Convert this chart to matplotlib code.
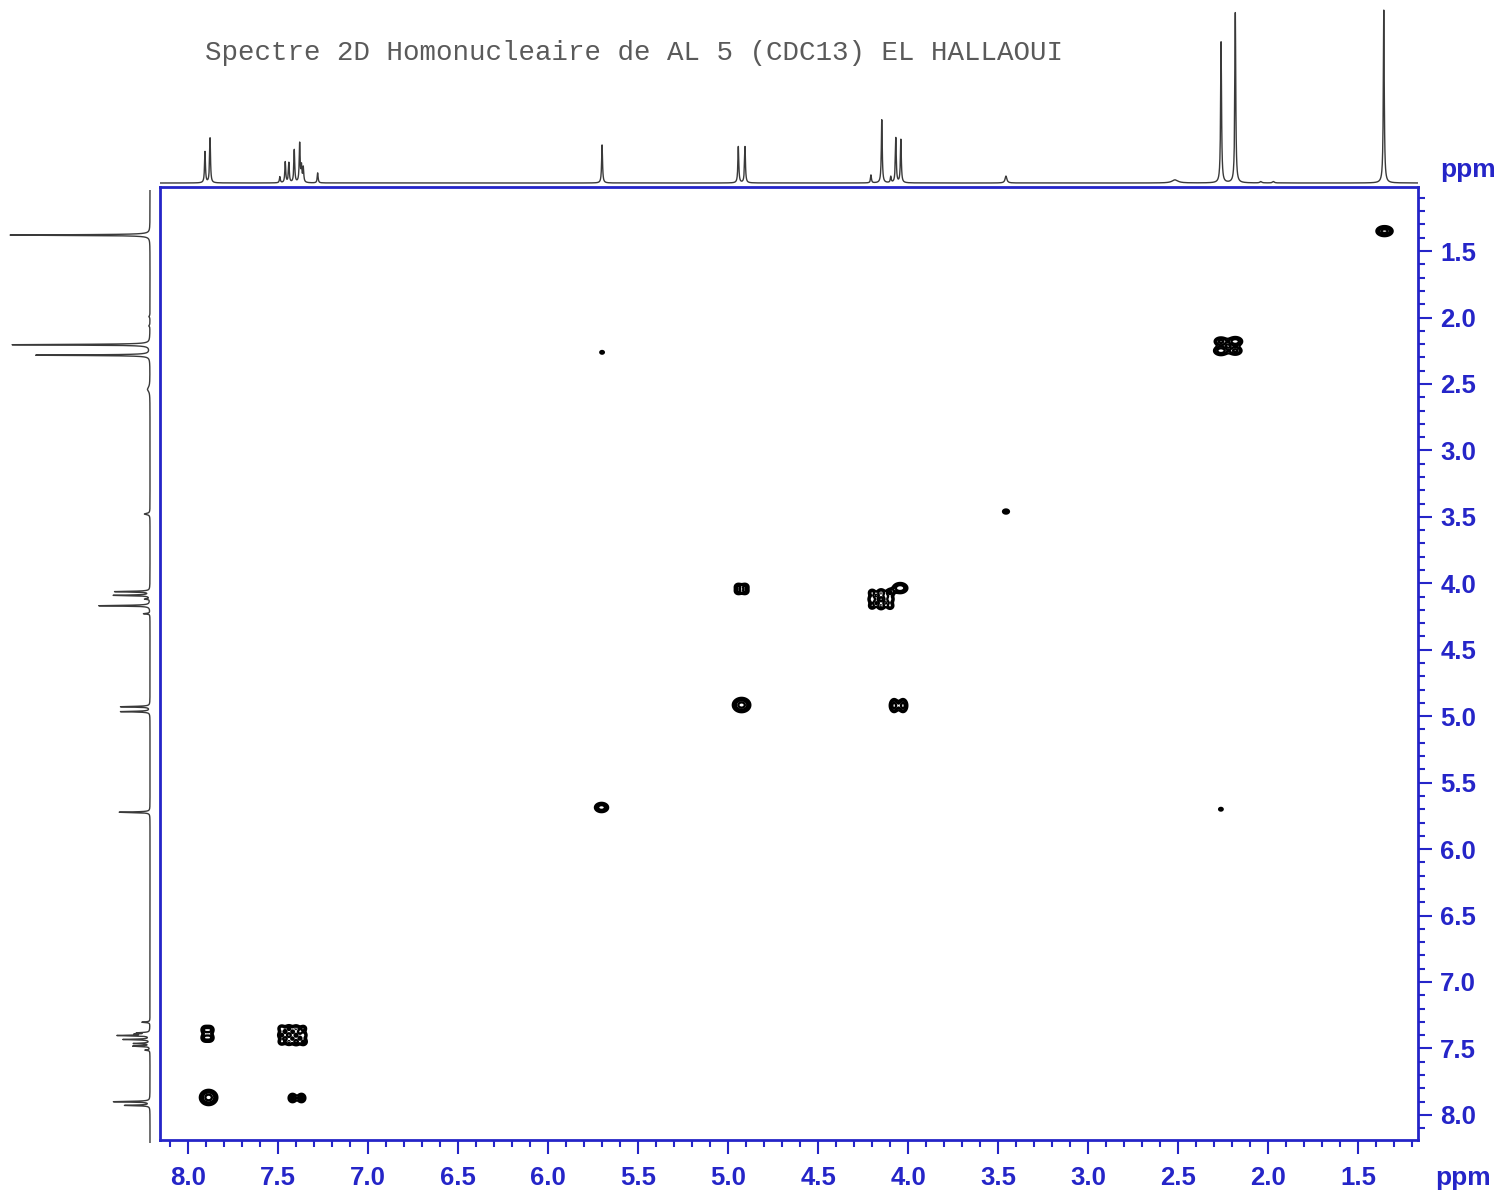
import numpy as np
import matplotlib
matplotlib.use('Agg')
import matplotlib.pyplot as plt
from matplotlib.ticker import MultipleLocator, FormatStrFormatter

# 1D proton spectrum: peak positions (ppm), relative heights, half widths (ppm)
peak_ppm = [7.906, 7.878, 7.49, 7.46, 7.44, 7.41, 7.38, 7.37, 7.36, 7.28,
            5.700, 4.943, 4.906, 4.206, 4.146, 4.096, 4.068, 4.040, 3.456,
            2.517, 2.261, 2.182, 2.04, 1.97, 1.357]
peak_height = [0.18, 0.26, 0.035, 0.12, 0.115, 0.19, 0.225, 0.09, 0.085, 0.058,
               0.22, 0.21, 0.21, 0.046, 0.365, 0.035, 0.26, 0.25, 0.04,
               0.018, 0.815, 0.985, 0.008, 0.008, 1.0]
peak_hw = [0.003] * 10 + [0.003] * 8 + [0.006, 0.02, 0.003, 0.003, 0.006, 0.006, 0.003]

# COSY contour blobs: F2 (x) ppm, F1 (y) ppm, amplitude, widths
cross_x = [1.353,
           2.262, 2.182, 2.262, 2.182,
           5.700, 2.262, 3.456,
           4.943, 4.906, 4.943, 4.906,
           4.20, 4.15, 4.10, 4.20, 4.15, 4.10, 4.20, 4.15, 4.10,
           4.044, 4.925, 4.078, 4.028, 5.703,
           7.906, 7.878, 7.906, 7.878,
           7.48, 7.44, 7.40, 7.36, 7.48, 7.44, 7.40, 7.36, 7.48, 7.44, 7.40, 7.36,
           7.886, 7.42, 7.37]
cross_y = [1.350,
           2.250, 2.180, 2.180, 2.250,
           2.262, 5.700, 3.460,
           4.025, 4.025, 4.060, 4.060,
           4.07, 4.07, 4.07, 4.12, 4.12, 4.12, 4.17, 4.17, 4.17,
           4.036, 4.916, 4.920, 4.920, 5.687,
           7.36, 7.36, 7.42, 7.42,
           7.35, 7.35, 7.35, 7.35, 7.40, 7.40, 7.40, 7.40, 7.45, 7.45, 7.45, 7.45,
           7.869, 7.873, 7.873]
cross_amp = [5.0,
             3.5, 3.5, 2.8, 2.8,
             1.4, 1.4, 1.8,
             2.4, 2.4, 2.4, 2.4,
             1.9, 2.4, 2.6, 2.3, 2.8, 2.2, 1.8, 2.4, 2.0,
             4.0, 5.0, 3.0, 3.0, 3.5,
             2.6, 2.6, 2.6, 2.6,
             2.2, 2.6, 2.4, 1.8, 2.6, 2.8, 2.6, 2.2, 2.0, 2.4, 2.8, 2.6,
             5.0, 2.8, 2.8]
cross_wx = [0.025,
            0.024, 0.024, 0.024, 0.024,
            0.012, 0.012, 0.015,
            0.014, 0.014, 0.014, 0.014,
            0.015, 0.015, 0.015, 0.015, 0.015, 0.015, 0.015, 0.015, 0.015,
            0.024, 0.027, 0.016, 0.016, 0.023,
            0.014, 0.014, 0.014, 0.014,
            0.014, 0.014, 0.014, 0.014, 0.014, 0.014, 0.014, 0.014, 0.014, 0.014, 0.014, 0.014,
            0.027, 0.015, 0.015]
cross_wy = [0.021,
            0.021, 0.021, 0.021, 0.021,
            0.012, 0.012, 0.014,
            0.016, 0.016, 0.016, 0.016,
            0.019, 0.019, 0.019, 0.019, 0.019, 0.019, 0.019, 0.019, 0.019,
            0.023, 0.030, 0.033, 0.033, 0.022,
            0.020, 0.020, 0.020, 0.020,
            0.018, 0.018, 0.018, 0.018, 0.018, 0.018, 0.018, 0.018, 0.018, 0.018, 0.018, 0.018,
            0.032, 0.022, 0.022]
contour_levels = [1.0, 1.6, 2.5, 4.0]

title = 'Spectre 2D Homonucleaire de AL 5 (CDC13) EL HALLAOUI'
blue = '#2525c8'

W, H = 1506, 1195
fig = plt.figure(figsize=(W / 100, H / 100), dpi=100)

xlim = (8.156, 1.167)
ylim = (8.189, 1.018)

# main 2D panel
ax = fig.add_axes([160 / W, 1 - 1140 / H, 1258 / W, 953 / H])
gx = np.arange(1.1, 8.25, 0.003)
gy = np.arange(1.0, 8.25, 0.003)
Z = np.zeros((gy.size, gx.size))
for x0, y0, a, sx, sy in zip(cross_x, cross_y, cross_amp, cross_wx, cross_wy):
    fx = np.exp(-0.5 * ((gx - x0) / sx) ** 2)
    fy = np.exp(-0.5 * ((gy - y0) / sy) ** 2)
    Z += a * np.outer(fy, fx)
ax.contour(gx, gy, Z, levels=contour_levels, colors='black', linewidths=1.7)
ax.set_xlim(*xlim)
ax.set_ylim(*ylim)

for s in ax.spines.values():
    s.set_color(blue)
    s.set_linewidth(2)
ax.xaxis.set_major_locator(MultipleLocator(0.5))
ax.xaxis.set_minor_locator(MultipleLocator(0.1))
ax.yaxis.set_major_locator(MultipleLocator(0.5))
ax.yaxis.set_minor_locator(MultipleLocator(0.1))
ax.xaxis.set_major_formatter(FormatStrFormatter('%.1f'))
ax.yaxis.set_major_formatter(FormatStrFormatter('%.1f'))
ax.tick_params(which='both', direction='out', colors=blue, width=1.5,
               bottom=True, top=False, left=False, right=True,
               labelbottom=True, labelleft=False, labelright=True)
ax.tick_params(which='major', length=10, pad=6)
ax.tick_params(axis='x', which='major', pad=9)
ax.tick_params(which='minor', length=5)
for lab in ax.get_xticklabels() + ax.get_yticklabels():
    lab.set_fontfamily('Liberation Sans')
    lab.set_fontweight('bold')
    lab.set_fontsize(18.5)

# 1D projection trace
ppm = np.linspace(1.0, 8.25, 24000)
spec = np.zeros_like(ppm)
for p, h, w in zip(peak_ppm, peak_height, peak_hw):
    spec += h * w ** 2 / ((ppm - p) ** 2 + w ** 2)

axt = fig.add_axes([160 / W, 1 - 187 / H, 1258 / W, 187 / H])
axt.plot(ppm, spec * 173, color='#3a3a3a', lw=1.0)
axt.set_xlim(*xlim)
axt.set_ylim(-4, 183)
axt.axis('off')

axl = fig.add_axes([0, 1 - 1143 / H, 155 / W, 953 / H])
axl.plot(spec * 140, ppm, color='#3a3a3a', lw=1.0)
axl.set_xlim(150, -5)
axl.set_ylim(*ylim)
axl.axis('off')

fig.text(205 / W, 1 - 53 / H, title, fontfamily='Liberation Mono', fontsize=19.8,
         color='#5a5a5a', va='center', ha='left')
fig.text(1468 / W, 1 - 170 / H, 'ppm', fontfamily='Liberation Sans', fontweight='bold',
         fontsize=19, color=blue, ha='center', va='center')
fig.text(1463 / W, 1 - 1178 / H, 'ppm', fontfamily='Liberation Sans', fontweight='bold',
         fontsize=19, color=blue, ha='center', va='center')

fig.savefig('out.png', dpi=100)
